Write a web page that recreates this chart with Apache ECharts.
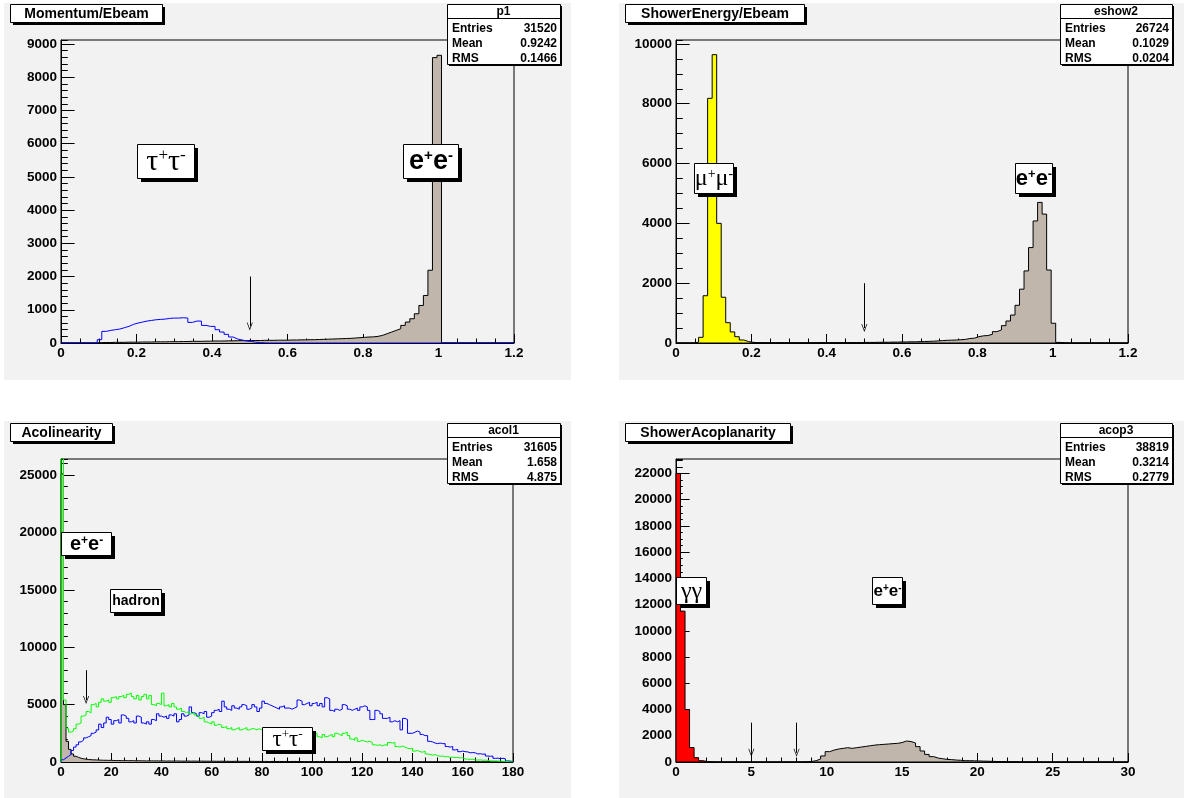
<!DOCTYPE html>
<html><head><meta charset="utf-8">
<script src="https://cdn.jsdelivr.net/npm/echarts@6/dist/echarts.min.js"></script>
<style>html,body{margin:0;padding:0;background:#fff}#c{width:1184px;height:798px}</style>
</head><body><div id="c"></div>
<script>
// ---------------- data (bin contents) ----------------
// Panel 1: Momentum/Ebeam, 100 bins of 0.012 from 0
const p1Gray = [
 0,0,0,0,0,0,0,0,10,15,
 15,20,20,20,25,25,25,30,30,30,
 35,35,35,40,40,40,45,45,50,50,
 50,55,55,60,60,60,65,65,70,70,
 70,75,75,75,80,80,80,85,85,85,
 90,90,95,95,100,100,105,110,115,120,
 125,130,135,140,150,160,170,180,185,200,
 230,280,330,380,430,530,630,730,880,1130,
 1430,2190,8590,8660,0,0,0,0,0,0,
 0,0,0,0,0,0,0,0,0,0];
const p1Blue = [
 0,0,0,0,0,0,0,0,100,350,
 380,400,420,460,500,560,600,630,660,680,
 700,710,720,740,750,750,760,750,620,660,
 660,530,500,500,400,330,260,180,120,90,
 60,45,25,12,5,0,0,0,0,0,
 0,0,0,0,0,0,0,0,0,0,
 0,0,0,0,0,0,0,0,0,0,
 0,0,0,0,0,0,0,0,0,0,
 0,0,0,0,0,0,0,0,0,0,
 0,0,0,0,0,0,0,0,0,0];
// Panel 2: ShowerEnergy/Ebeam, 100 bins of 0.012 from 0
const p2Yellow = [
 0,0,0,0,30,190,1580,8180,9640,4000,
 1530,680,370,210,100,50,25,10,5,0,
 0,0,0,0,0,0,0,0,0,0,
 0,0,0,0,0,0,0,0,0,0,
 0,0,0,0,0,0,0,0,0,0,
 0,0,0,0,0,0,0,0,0,0,
 0,0,0,0,0,0,0,0,0,0,
 0,0,0,0,0,0,0,0,0,0,
 0,0,0,0,0,0,0,0,0,0,
 0,0,0,0,0,0,0,0,0,0];
const p2Gray = [
 0,0,0,0,0,0,0,0,0,0,
 0,0,0,0,0,0,10,10,10,10,
 10,10,10,10,10,10,10,10,10,10,
 10,15,15,15,15,15,15,15,15,15,
 15,20,20,20,25,25,25,30,30,35,
 35,40,40,45,50,55,60,70,80,90,
 95,100,110,120,150,160,210,240,250,290,
 380,435,580,735,935,1260,1800,2410,3190,4080,
 4700,4310,2440,660,20,10,0,0,0,0,
 0,0,0,0,0,0,0,0,0,0];
// Panel 3: Acolinearity, 180 bins of 1 degree from 0
const p3Gray = [
 25100,5000,1800,1100,700,500,400,330,280,250,
 220,200,190,180,170,160,150,150,140,150,
 130,120,130,120,110,120,110,120,110,100,
 110,100,100,90,100,100,90,100,90,90,
 90,80,90,80,80,90,80,80,70,80,
 80,70,80,70,70,80,70,70,70,60,
 70,60,60,70,60,60,60,50,60,60,
 60,50,60,50,50,60,50,50,50,50,
 50,50,40,50,50,40,50,40,40,50,
 40,40,50,40,40,40,40,30,40,40,
 40,30,40,40,30,40,30,30,40,30,
 30,30,30,40,30,30,30,30,20,30,
 30,20,30,30,20,30,20,30,20,20,
 20,30,20,20,20,20,30,20,20,20,
 20,20,20,10,20,20,10,20,10,20,
 10,10,20,10,10,10,10,10,10,10,
 10,10,10,10,5,10,10,5,10,5,
 5,5,5,5,5,5,5,0,0,0];
const p3Green = [
 30000,5400,2900,2600,2700,2900,3300,3400,4000,4100,
 4400,4300,5000,5100,4800,5200,5500,5300,5400,5200,
 5600,5700,5500,5700,5800,5600,5900,6000,5700,5500,
 5800,5400,5700,5900,5500,5800,5000,4900,5100,5000,
 6000,4900,5000,4800,5100,4800,4600,4700,4400,4300,
 4400,4200,4300,4100,4000,3800,3900,3500,3400,3300,
 3500,3200,3300,3200,3000,3100,2900,3000,2800,2900,
 3000,2800,2900,3000,2800,2900,2900,2800,2900,2800,
 2900,2700,2600,2800,2500,2600,2700,2400,2500,2600,
 2400,2500,2300,2400,2500,2300,2400,2200,2300,2400,
 2300,2500,2200,2100,2400,2200,2300,2400,2200,2500,
 2400,2300,2500,2600,2300,2000,1900,2100,1800,1900,
 1800,1750,1800,1700,1500,1450,1500,1400,1500,1450,
 1700,1650,1700,1350,1300,1400,1300,1200,1150,1200,
 950,1000,900,850,950,700,650,600,650,550,
 500,520,450,480,400,420,380,400,350,380,
 260,250,230,240,180,170,190,150,160,140,
 100,90,100,80,70,60,50,30,20,10];
const p3Blue = [
 200,350,500,650,1000,1300,1500,1750,1900,2100,
 2200,2300,2500,2600,2800,3300,3000,3400,3900,3700,
 3300,3600,3700,3400,4100,4000,3800,3500,3600,3400,
 4000,3900,3400,3300,3500,3300,3700,3600,4200,4000,
 3900,4000,3800,4100,4000,4200,3500,3700,4200,4000,
 4100,4800,4300,4200,4000,4300,4200,4400,3900,4000,
 4300,4500,4600,4400,5300,4800,4600,4500,4900,4700,
 4600,4800,5000,4900,4600,4700,5000,4800,4400,4700,
 5300,5100,5000,4900,4800,4700,4600,4800,4900,4700,
 4700,4600,4700,4800,5400,5300,5000,5100,5200,4900,
 5100,5200,4900,5100,4800,5600,5500,4500,4400,4600,
 4500,4600,5000,4900,4600,4500,4600,4700,4500,4800,
 4900,4800,4500,3700,3700,4500,4400,4200,3800,3800,
 3900,3500,3600,3500,3600,2800,3800,3700,2500,2500,
 2600,2700,2600,2400,2300,2300,1800,1750,1650,1600,
 1650,1600,1600,1350,1300,1350,1050,1100,900,950,
 900,880,800,820,800,700,720,680,700,520,
 500,520,320,330,300,320,280,90,80,40];
// Panel 4: ShowerAcoplanarity, 100 bins of 0.3 from 0
const p4Red = [
 22000,11500,4000,1100,330,100,30,10,0,0,
 0,0,0,0,0,0,0,0,0,0,
 0,0,0,0,0,0,0,0,0,0,
 0,0,0,0,0,0,0,0,0,0,
 0,0,0,0,0,0,0,0,0,0,
 0,0,0,0,0,0,0,0,0,0,
 0,0,0,0,0,0,0,0,0,0,
 0,0,0,0,0,0,0,0,0,0,
 0,0,0,0,0,0,0,0,0,0,
 0,0,0,0,0,0,0,0,0,0];
const p4Gray = [
 0,0,0,0,0,0,0,0,0,0,
 0,0,0,0,0,0,0,0,0,0,
 0,0,0,0,0,0,5,10,20,40,
 100,230,460,790,910,990,1040,1090,1040,1090,
 1140,1190,1240,1290,1320,1345,1370,1400,1420,1480,
 1600,1560,1450,1170,840,580,410,300,250,200,
 180,150,130,100,100,90,80,70,60,50,
 40,35,30,25,20,15,10,10,5,5,
 0,0,0,0,0,0,0,0,0,0,
 0,0,0,0,0,0,0,0,0,0];

// axis ranges / ticks
const binLo = [0, 0, 0, 0];
const binW = [0.012, 0.012, 1, 0.3];
const xMax = [1.2, 1.2, 180, 30];
const xMajor = [0.2, 0.2, 20, 5];
const xMinorSplit = [4, 4, 4, 5];
const yMax = [9120, 10130, 26400, 23100];
const yMajor = [1000, 2000, 5000, 2000];
const yMinor = [200, 500, 1000, 500];

// texts
const titles = ['Momentum/Ebeam', 'ShowerEnergy/Ebeam', 'Acolinearity', 'ShowerAcoplanarity'];
const statNames = ['p1', 'eshow2', 'acol1', 'acop3'];
const statEntries = ['31520', '26724', '31605', '38819'];
const statMean = ['0.9242', '0.1029', '1.658', '0.3214'];
const statRMS = ['0.1466', '0.0204', '4.875', '0.2779'];
// arrows: [x, yTop, yEnd]
const arrows = [[[0.5, 2000, 500]], [[0.5, 2000, 500]], [[10, 8000, 5400]], [[5, 3000, 700], [8, 3000, 700]]];

// ---------------- layout ----------------
const FONT = '"Liberation Sans", Arial, Helvetica, sans-serif';
const SERIF = '"Liberation Serif", "Times New Roman", serif';
const GRAYF = '#c0b6ab';
const PADC = '#f2f2f2';
const grids = [
  {left: 61, top: 40, width: 453, height: 303},
  {left: 676, top: 40, width: 452, height: 303},
  {left: 61, top: 459, width: 452, height: 303},
  {left: 676, top: 459, width: 452, height: 303}];
const pads = [[4, 3, 567, 377], [619, 3, 565, 377], [4, 421, 567, 377], [619, 421, 565, 377]];
const titleBoxes = [[10, 4, 152, 18], [625, 4, 179, 18], [10, 423, 102, 18], [625, 423, 165, 18]];
const statBoxes = [[447, 4, 113, 60], [1060, 4, 112, 60], [447, 423, 113, 60], [1060, 423, 112, 60]];
// [x, y, w, h, text, family, size, supSize, weight]
const tags = [
  [137, 144, 57, 34, 'τ+τ-', SERIF, 30, 17, 'normal'],
  [403, 144, 55, 34, 'e+e-', FONT, 27, 15, 'bold'],
  [694, 163, 39, 30, 'μ+μ-', SERIF, 24, 14, 'normal'],
  [1015, 163, 37, 30, 'e+e-', FONT, 22, 13, 'bold'],
  [61, 532, 50, 23, 'e+e-', FONT, 20, 12, 'bold'],
  [110, 589, 51, 23, 'hadron', FONT, 14, 10, 'bold'],
  [262, 727, 50, 23, 'τ+τ-', SERIF, 23, 13, 'normal'],
  [676, 577, 30, 27, 'γγ', SERIF, 24, 12, 'normal'],
  [872, 577, 30, 27, 'e+e-', FONT, 17, 10, 'bold']];

const CHEV = 'path://M5,0 L10,10 L8.8,10 L5,2.4 L1.2,10 L0,10 Z';

function hist(values, lo, w) {
  const pts = [[lo, 0]];
  values.forEach((v, i) => pts.push([lo + i * w, v]));
  pts.push([lo + values.length * w, 0]);
  return pts;
}
function hs(values, p, color, fill, extra) {
  const s = {
    type: 'line', xAxisIndex: p, yAxisIndex: 2 * p, data: hist(values, binLo[p], binW[p]),
    step: 'end', symbol: 'none', showSymbol: false, animation: false, silent: true, clip: true,
    lineStyle: {color: color, width: 1}, z: 2
  };
  if (fill) s.areaStyle = {color: fill, opacity: 1};
  return Object.assign(s, extra || {});
}
function ml(p) {
  return {
    silent: true, animation: false, symbol: ['none', CHEV], symbolSize: [6, 8],
    lineStyle: {color: '#000', width: 1, type: 'solid'}, label: {show: false},
    emphasis: {disabled: true},
    data: arrows[p].map(a => [{coord: [a[0], a[1]]}, {coord: [a[0], a[2]]}])
  };
}
const labelStyle = {color: '#000', fontFamily: FONT, fontWeight: 'bold', fontSize: 13.5};
const xAxes = [0, 1, 2, 3].map(p => ({
  type: 'value', gridIndex: p, min: 0, max: xMax[p], interval: xMajor[p], position: 'bottom',
  axisLine: {show: true, onZero: false, lineStyle: {color: '#000', width: 1}},
  axisTick: {show: true, inside: true, length: 9, lineStyle: {color: '#000', width: 1}},
  minorTick: {show: true, splitNumber: xMinorSplit[p], length: 4.5, lineStyle: {color: '#000', width: 1}},
  axisLabel: Object.assign({show: true, margin: 3, formatter: v => String(Math.round(v * 1000) / 1000)}, labelStyle),
  splitLine: {show: false}, minorSplitLine: {show: false}
}));
const yAxes = [];
[0, 1, 2, 3].forEach(p => {
  yAxes.push({
    type: 'value', gridIndex: p, min: 0, max: yMax[p], interval: yMajor[p], position: 'left',
    axisLine: {show: true, onZero: false, lineStyle: {color: '#000', width: 1}},
    axisTick: {show: true, inside: true, length: 13.6, lineStyle: {color: '#000', width: 1}},
    axisLabel: Object.assign({show: true, margin: 4, showMaxLabel: false, formatter: v => String(v)}, labelStyle),
    splitLine: {show: false}
  });
  yAxes.push({
    type: 'value', gridIndex: p, min: 0, max: yMax[p], interval: yMinor[p], position: 'left',
    axisLine: {show: false},
    axisTick: {show: true, inside: true, length: 6.8, lineStyle: {color: '#000', width: 1}},
    axisLabel: {show: false}, splitLine: {show: false}
  });
});

const series = [
  hs(p1Gray, 0, '#000', GRAYF, {markLine: ml(0)}),
  hs(p1Blue, 0, '#0000ff', null),
  hs(p2Yellow, 1, '#000', '#ffff00'),
  hs(p2Gray, 1, '#000', GRAYF, {markLine: ml(1)}),
  hs(p3Gray, 2, '#000', GRAYF, {markLine: ml(2)}),
  hs(p3Blue, 2, '#0000ff', null),
  hs(p3Green, 2, '#00ff00', null),
  hs(p4Red, 3, '#000', '#ff0000'),
  hs(p4Gray, 3, '#000', GRAYF, {markLine: ml(3)})
];

function richText(str) {
  return str.match(/[+-]|[^+-]+/g).map(t => (t === '+' || t === '-') ? '{s|' + t + '}' : '{m|' + t + '}').join('');
}
const els = [];
pads.forEach(r => els.push({type: 'rect', z: -100, silent: true, shape: {x: r[0], y: r[1], width: r[2], height: r[3]}, style: {fill: PADC}}));
function pave(r, sh, z) {
  els.push({type: 'rect', z: z, silent: true, shape: {x: r[0] + sh, y: r[1] + sh, width: r[2], height: r[3]}, style: {fill: '#000'}});
  els.push({type: 'rect', z: z + 1, silent: true, shape: {x: r[0] + 0.5, y: r[1] + 0.5, width: r[2], height: r[3]}, style: {fill: '#fff', stroke: '#000', lineWidth: 1}});
}
titleBoxes.forEach((r, i) => {
  pave(r, 3, 100);
  els.push({type: 'text', z: 102, silent: true, style: {text: titles[i], x: r[0] + r[2] / 2 + 0.5, y: r[1] + r[3] / 2 + 1.5, align: 'center', verticalAlign: 'middle', fill: '#000', font: 'bold 14px ' + FONT}});
});
statBoxes.forEach((r, i) => {
  pave(r, 2, 100);
  els.push({type: 'line', z: 102, silent: true, shape: {x1: r[0], y1: r[1] + 14.5, x2: r[0] + r[2], y2: r[1] + 14.5}, style: {stroke: '#000', lineWidth: 1}});
  const f = 'bold 12px ' + FONT;
  els.push({type: 'text', z: 102, silent: true, style: {text: statNames[i], x: r[0] + r[2] / 2, y: r[1] + 8, align: 'center', verticalAlign: 'middle', fill: '#000', font: f}});
  const rows = [['Entries', statEntries[i]], ['Mean', statMean[i]], ['RMS', statRMS[i]]];
  rows.forEach((rw, k) => {
    const y = r[1] + 24.5 + 15 * k;
    els.push({type: 'text', z: 102, silent: true, style: {text: rw[0], x: r[0] + 5, y: y, align: 'left', verticalAlign: 'middle', fill: '#000', font: f}});
    els.push({type: 'text', z: 102, silent: true, style: {text: rw[1], x: r[0] + r[2] - 3, y: y, align: 'right', verticalAlign: 'middle', fill: '#000', font: f}});
  });
});
tags.forEach(t => {
  pave(t, 4, 110);
  els.push({type: 'text', z: 112, silent: true, style: {
    text: richText(t[4]), x: t[0] + t[2] / 2 + 0.5, y: t[1] + t[3] / 2 + 1, align: 'center', verticalAlign: 'middle',
    rich: {
      m: {fontFamily: t[5], fontSize: t[6], fontWeight: t[8], fill: '#000', lineHeight: t[6]},
      s: {fontFamily: t[5], fontSize: t[7], fontWeight: t[8], fill: '#000', lineHeight: t[7], verticalAlign: 'top'}
    }}});
});

const chart = echarts.init(document.getElementById('c'), null, {renderer: 'canvas'});
chart.setOption({
  animation: false,
  backgroundColor: '#ffffff',
  grid: grids.map(g => Object.assign({show: true, borderColor: '#000', borderWidth: 1, backgroundColor: 'rgba(0,0,0,0)', containLabel: false, outerBoundsMode: 'none'}, g)),
  xAxis: xAxes,
  yAxis: yAxes,
  series: series,
  graphic: {elements: els}
});
</script>
</body></html>
